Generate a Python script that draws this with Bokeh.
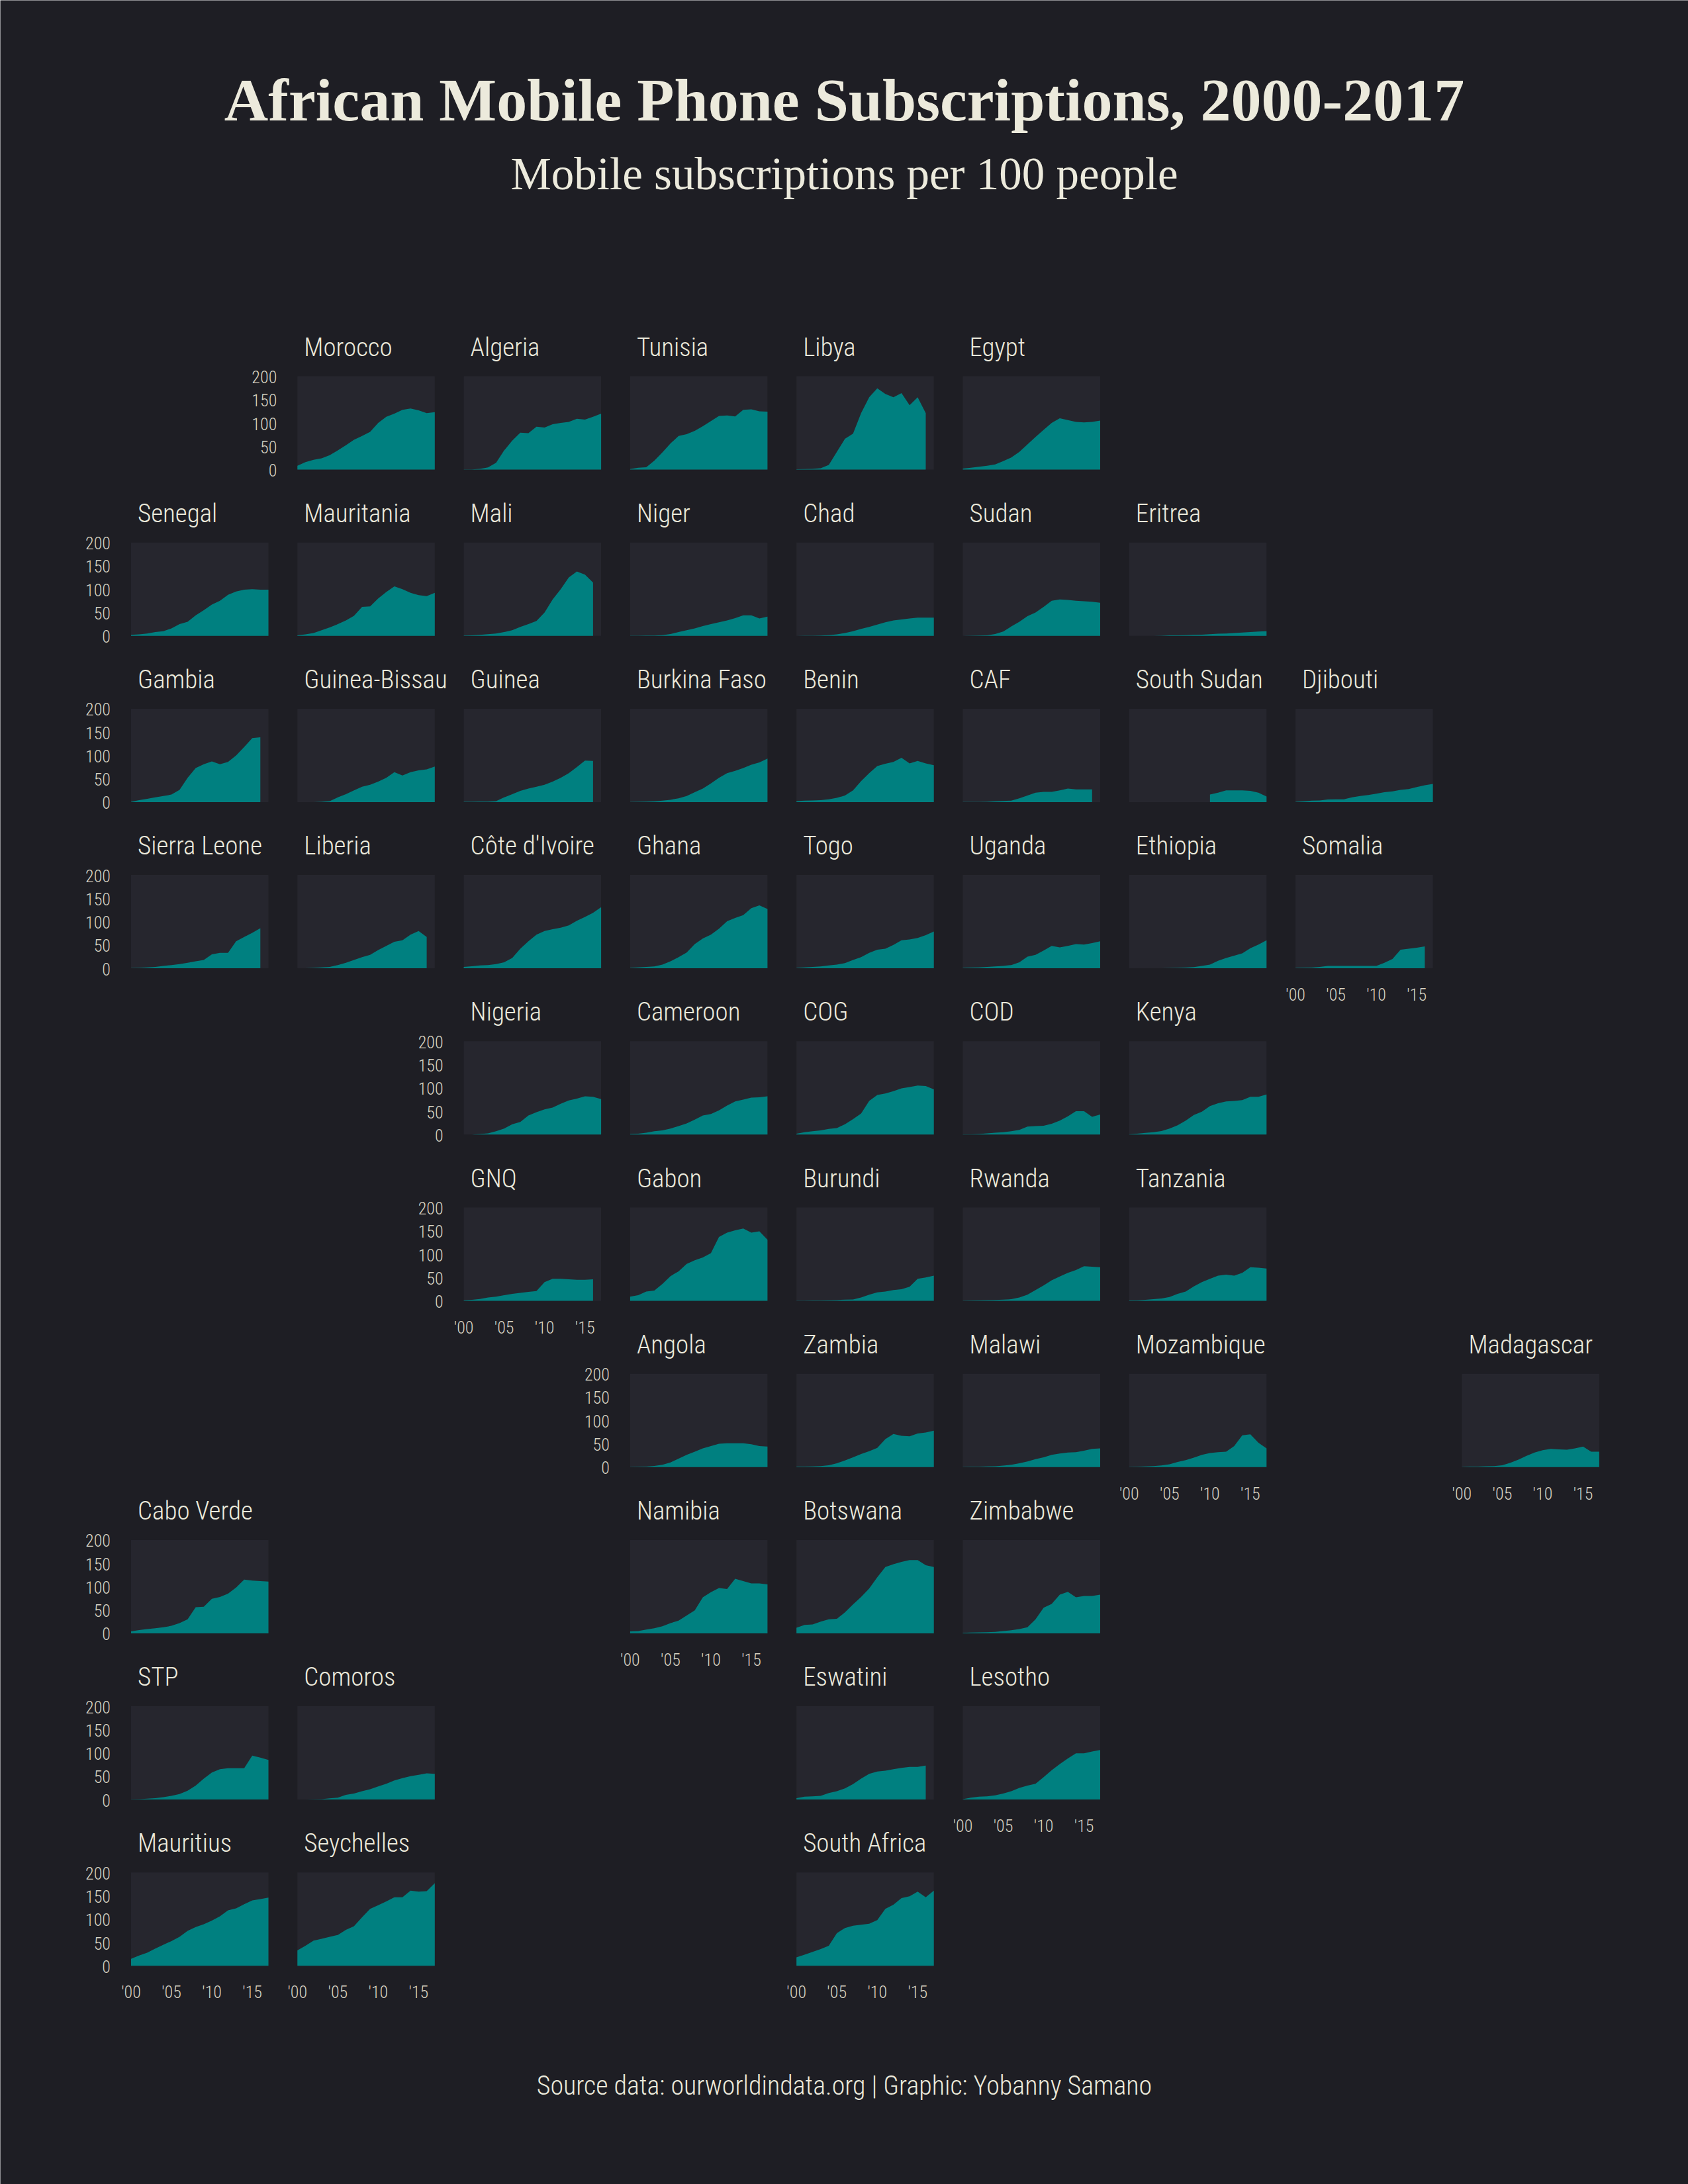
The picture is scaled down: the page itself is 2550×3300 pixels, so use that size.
from bokeh.plotting import figure
from bokeh.models import Range1d, Label
from bokeh.core.properties import value
from bokeh.embed import file_html
from bokeh.resources import INLINE

# ---------------- data (mobile subscriptions per 100 people, from 2000) ----------------
morocco = [8, 16, 21, 24, 31, 41, 52, 64, 72, 81, 100, 113, 120, 128, 131, 127, 121, 123]
algeria = [0.3, 0.3, 1.3, 4.5, 14.5, 41, 62, 79, 78, 92, 90, 97, 100, 102, 109, 107, 113, 120]
tunisia = [1.2, 4, 5, 19, 37, 56, 72, 76, 83, 93, 104, 115, 116, 114, 128, 129, 125, 124]
libya = [0.8, 0.9, 1.3, 3, 10, 38, 66, 77, 121, 155, 174, 162, 155, 164, 138, 155, 121]
egypt = [2, 4, 6, 8, 11, 18, 26, 38, 54, 70, 85, 100, 110, 106, 102, 101, 102, 105]
senegal = [2, 3, 5, 8, 10, 16, 25, 30, 44, 55, 67, 75, 88, 95, 99, 100, 99, 99]
mauritania = [1, 3, 6, 12, 18, 25, 33, 43, 62, 63, 80, 94, 106, 100, 92, 87, 85, 92]
mali = [0.5, 1, 2, 3.5, 5, 8, 12, 19, 25, 32, 50, 78, 100, 125, 138, 131, 114]
niger = [0.2, 0.3, 0.5, 0.8, 1.5, 4, 8, 12, 16, 21, 25, 29, 33, 38, 44, 44, 37, 41]
chad = [0.1, 0.3, 0.4, 0.8, 1.3, 3, 6, 10, 15, 19, 24, 29, 33, 35, 37, 39, 39, 39]
sudan = [0.1, 0.3, 0.5, 1, 4, 9, 20, 30, 42, 50, 62, 75, 78, 77, 75, 74, 73, 71]
eritrea = [0, 0, 0, 0, 0.3, 1, 1, 1.5, 2, 2.5, 3.5, 4.5, 5, 6, 7, 8, 9, 10]
gambia = [0.4, 4, 7, 10, 13, 16, 26, 52, 73, 81, 87, 81, 86, 100, 118, 137, 139]
guinea_bissau = [0, 0, 0, 0.5, 2, 10, 17, 25, 33, 37, 44, 52, 64, 57, 64, 68, 70, 76]
guinea = [0.5, 0.6, 0.8, 1, 2, 10, 17, 24, 29, 33, 37, 44, 52, 62, 75, 89, 88]
burkina_faso = [0.2, 0.6, 0.8, 1.8, 3, 5, 8, 13, 21, 29, 40, 52, 62, 67, 73, 80, 85, 93]
benin = [2, 3, 3.5, 4, 6, 9, 14, 25, 45, 62, 77, 82, 86, 95, 83, 88, 83, 79]
caf = [0.1, 0.3, 0.3, 0.4, 1.5, 2.5, 3, 8, 14, 20, 22, 22, 25, 29, 27, 27, 27]
south_sudan = [16, 20, 25, 25, 25, 24, 20, 12]
djibouti = [0.5, 1.5, 3, 3.5, 5.5, 6, 6, 10, 13, 15, 18, 21, 23, 26, 28, 32, 36, 39]
sierra_leone = [0.5, 1, 2, 3, 5, 7, 9, 12, 15, 18, 30, 33, 33, 58, 67, 76, 86]
liberia = [0.1, 0.1, 1, 2, 3, 7, 12, 18, 24, 29, 39, 48, 57, 60, 72, 80, 67]
cote_divoire = [3, 4.5, 6, 7, 9, 13, 22, 42, 58, 72, 80, 84, 87, 92, 102, 110, 119, 131]
ghana = [1, 2, 3, 4, 8, 15, 24, 34, 52, 64, 72, 85, 101, 108, 114, 129, 135, 127]
togo = [1, 2, 3, 4, 6, 8, 11, 18, 24, 33, 40, 42, 50, 60, 62, 65, 71, 79]
uganda = [1, 1.5, 2, 3, 4, 5, 7, 13, 25, 29, 38, 48, 45, 48, 52, 51, 54, 58]
ethiopia = [0, 0.05, 0.1, 0.1, 0.2, 0.5, 1, 1.5, 2.5, 5, 8, 16, 22, 27, 32, 43, 51, 60]
somalia = [1, 1.2, 1.5, 3, 5, 5, 5, 5, 5, 5, 5, 12, 20, 40, 42, 44, 47]
nigeria = [0.02, 0.2, 1.2, 2.6, 7, 13, 22, 27, 41, 48, 54, 58, 66, 73, 77, 82, 81, 76]
cameroon = [1, 2, 4, 7, 9, 13, 18, 24, 32, 41, 44, 52, 62, 71, 75, 79, 80, 82]
cog = [2, 5, 7, 9, 12, 14, 22, 33, 45, 72, 85, 88, 93, 99, 102, 105, 104, 97]
cod = [0.3, 0.6, 1, 2.5, 4, 5, 7, 10, 17, 18, 19, 23, 30, 39, 50, 50, 38, 43]
kenya = [0.4, 2, 3.5, 5, 7.5, 13, 20, 30, 42, 49, 61, 67, 71, 72, 74, 81, 81, 86]
gnq = [1, 2, 4, 7, 9, 12, 15, 17, 19, 21, 40, 47, 47, 46, 45, 45, 46]
gabon = [9, 12, 20, 22, 36, 53, 63, 79, 87, 93, 102, 137, 146, 151, 155, 146, 149, 131]
burundi = [0.3, 0.5, 0.6, 0.8, 1, 1.5, 2.5, 3, 7, 13, 18, 20, 23, 25, 30, 47, 50, 54]
rwanda = [0.5, 0.8, 1, 1.5, 1.6, 2.5, 3.5, 7, 13, 23, 33, 44, 52, 60, 66, 74, 73, 72]
tanzania = [1, 1.2, 2, 3.5, 5, 8, 15, 20, 31, 40, 47, 54, 56, 54, 60, 72, 71, 69]
angola = [0.2, 0.6, 1, 2.3, 5, 10, 18, 26, 33, 40, 45, 50, 51, 51, 51, 49, 45, 44]
zambia = [1, 1, 1.3, 2, 4, 8, 14, 21, 28, 34, 41, 60, 71, 67, 66, 72, 74, 78]
malawi = [0.4, 0.5, 0.8, 1.2, 1.8, 3, 5, 8, 12, 17, 21, 26, 29, 31, 32, 35, 39, 40]
mozambique = [0.3, 0.8, 1.4, 2, 3.5, 6, 11, 15, 20, 26, 30, 32, 33, 45, 68, 70, 52, 40]
madagascar = [0.4, 0.9, 1, 1.7, 2, 4, 9, 16, 24, 31, 36, 39, 38, 37, 40, 44, 33, 33]
cabo_verde = [4, 7, 9, 11, 13, 16, 22, 30, 56, 57, 74, 78, 85, 98, 115, 113, 112, 111]
namibia = [4, 5, 8, 11, 15, 22, 27, 38, 49, 77, 88, 97, 95, 117, 112, 107, 107, 105]
botswana = [12, 18, 19, 25, 30, 31, 45, 62, 78, 96, 120, 142, 148, 153, 157, 157, 146, 142]
zimbabwe = [1, 1.5, 2, 2.5, 3, 5, 6.5, 9, 13, 30, 55, 63, 83, 89, 77, 80, 80, 83]
stp = [0.5, 1, 2, 3, 5, 8, 12, 19, 30, 45, 58, 65, 67, 67, 67, 94, 90, 85]
comoros = [0, 0.3, 0.5, 1, 2.5, 4, 10, 13, 18, 22, 28, 34, 41, 46, 50, 53, 56, 55]
eswatini = [3, 6, 7, 8, 14, 18, 24, 33, 45, 55, 60, 62, 65, 68, 70, 70, 73]
lesotho = [1, 4, 6, 7, 9, 13, 18, 25, 30, 34, 48, 63, 76, 88, 99, 99, 103, 106]
mauritius = [15, 22, 28, 37, 45, 53, 62, 75, 83, 89, 97, 106, 119, 123, 132, 140, 143, 146]
seychelles = [33, 43, 54, 58, 62, 66, 77, 85, 104, 122, 130, 138, 147, 147, 161, 159, 160, 177]
south_africa = [18, 24, 30, 36, 43, 70, 81, 86, 88, 90, 98, 122, 131, 145, 149, 159, 147, 161]

series = {
    "Morocco": morocco, "Algeria": algeria, "Tunisia": tunisia, "Libya": libya, "Egypt": egypt,
    "Senegal": senegal, "Mauritania": mauritania, "Mali": mali, "Niger": niger, "Chad": chad,
    "Sudan": sudan, "Eritrea": eritrea, "Gambia": gambia, "Guinea-Bissau": guinea_bissau,
    "Guinea": guinea, "Burkina Faso": burkina_faso, "Benin": benin, "CAF": caf,
    "South Sudan": south_sudan, "Djibouti": djibouti, "Sierra Leone": sierra_leone,
    "Liberia": liberia, "Côte d'Ivoire": cote_divoire, "Ghana": ghana, "Togo": togo,
    "Uganda": uganda, "Ethiopia": ethiopia, "Somalia": somalia, "Nigeria": nigeria,
    "Cameroon": cameroon, "COG": cog, "COD": cod, "Kenya": kenya, "GNQ": gnq, "Gabon": gabon,
    "Burundi": burundi, "Rwanda": rwanda, "Tanzania": tanzania, "Angola": angola,
    "Zambia": zambia, "Malawi": malawi, "Mozambique": mozambique, "Madagascar": madagascar,
    "Cabo Verde": cabo_verde, "Namibia": namibia, "Botswana": botswana, "Zimbabwe": zimbabwe,
    "STP": stp, "Comoros": comoros, "Eswatini": eswatini, "Lesotho": lesotho,
    "Mauritius": mauritius, "Seychelles": seychelles, "South Africa": south_africa,
}
first_year = {"South Sudan": 2010}
x_ticks = [2000, 2005, 2010, 2015]
x_tick_labels = ["'00", "'05", "'10", "'15"]
y_ticks = [0, 50, 100, 150, 200]
y_tick_labels = ["0", "50", "100", "150", "200"]

# ---------------- geofacet layout: (row, column) ----------------
grid = {
    "Morocco": (0, 1), "Algeria": (0, 2), "Tunisia": (0, 3), "Libya": (0, 4), "Egypt": (0, 5),
    "Senegal": (1, 0), "Mauritania": (1, 1), "Mali": (1, 2), "Niger": (1, 3), "Chad": (1, 4),
    "Sudan": (1, 5), "Eritrea": (1, 6),
    "Gambia": (2, 0), "Guinea-Bissau": (2, 1), "Guinea": (2, 2), "Burkina Faso": (2, 3),
    "Benin": (2, 4), "CAF": (2, 5), "South Sudan": (2, 6), "Djibouti": (2, 7),
    "Sierra Leone": (3, 0), "Liberia": (3, 1), "Côte d'Ivoire": (3, 2), "Ghana": (3, 3),
    "Togo": (3, 4), "Uganda": (3, 5), "Ethiopia": (3, 6), "Somalia": (3, 7),
    "Nigeria": (4, 2), "Cameroon": (4, 3), "COG": (4, 4), "COD": (4, 5), "Kenya": (4, 6),
    "GNQ": (5, 2), "Gabon": (5, 3), "Burundi": (5, 4), "Rwanda": (5, 5), "Tanzania": (5, 6),
    "Angola": (6, 3), "Zambia": (6, 4), "Malawi": (6, 5), "Mozambique": (6, 6), "Madagascar": (6, 8),
    "Cabo Verde": (7, 0), "Namibia": (7, 3), "Botswana": (7, 4), "Zimbabwe": (7, 5),
    "STP": (8, 0), "Comoros": (8, 1), "Eswatini": (8, 4), "Lesotho": (8, 5),
    "Mauritius": (9, 0), "Seychelles": (9, 1), "South Africa": (9, 4),
}

# ---------------- styling / geometry ----------------
W, H = 2550, 3300
X0, DX, PW = 197.5, 251.3, 207.5
Y0, DY, PH = 568.0, 251.2, 141.0
X_MIN, X_MAX = 2000, 2017
Y_MIN, Y_MAX = 0, 200
BG = "#1E1E24"
PANEL = "#26262E"
TEAL = "#008080"
TXT = "#ECEADC"
TICK = "#D8D3C3"
FONT_C = "Roboto Condensed Light, Roboto Condensed, Roboto"
FONT_S = "Liberation Serif"

p = figure(width=W, height=H, x_range=Range1d(0, W), y_range=Range1d(0, H),
           output_backend="svg", toolbar_location=None, min_border=0,
           x_axis_location=None, y_axis_location=None,
           background_fill_color=BG, border_fill_color=BG, outline_line_color=None)
p.grid.visible = False

rows_left = {}
cols_bottom = {}
for name, (r, c) in grid.items():
    if r not in rows_left or c < grid[rows_left[r]][1]:
        rows_left[r] = name
    if c not in cols_bottom or r > grid[cols_bottom[c]][0]:
        cols_bottom[c] = name
with_y = set(rows_left.values())
with_x = set(cols_bottom.values())

for name, vals in series.items():
    r, c = grid[name]
    left = X0 + c * DX
    top = Y0 + r * DY
    sub = p.subplot(x_source=Range1d(X_MIN, X_MAX), y_source=Range1d(Y_MIN, Y_MAX),
                    x_target=Range1d(left, left + PW),
                    y_target=Range1d(H - top - PH, H - top))
    sub.quad(left=[X_MIN], right=[X_MAX], bottom=[Y_MIN], top=[Y_MAX],
             fill_color=PANEL, line_color=None)
    start = first_year.get(name, X_MIN)
    yrs = list(range(start, start + len(vals)))
    sub.varea(x=yrs, y1=[0] * len(vals), y2=vals, fill_color=TEAL)
    sub.text(x=[X_MIN], y=[Y_MAX], text=[name], x_offset=10, y_offset=-44,
             text_font=value(FONT_C), text_font_size="39px", text_color=TXT,
             text_align="left", text_baseline="alphabetic")
    if name in with_y:
        sub.text(x=[X_MIN] * len(y_ticks), y=y_ticks, text=y_tick_labels,
                 x_offset=-31, y_offset=1, text_font=value(FONT_C), text_font_size="26px",
                 text_color=TICK, text_align="right", text_baseline="alphabetic")
    if name in with_x:
        sub.text(x=x_ticks, y=[Y_MIN] * len(x_ticks), text=x_tick_labels,
                 y_offset=40, text_font=value(FONT_C), text_font_size="26px",
                 text_color=TICK, text_align="center", text_baseline="alphabetic")

p.add_layout(Label(x=W / 2, y=H - 150, text="African Mobile Phone Subscriptions, 2000-2017",
                   text_font=FONT_S, text_font_style="bold", text_font_size="92px",
                   text_color=TXT, text_align="center", text_baseline="alphabetic"))
p.add_layout(Label(x=W / 2, y=H - 262, text="Mobile subscriptions per 100 people",
                   text_font=FONT_S, text_font_size="69px",
                   text_color=TXT, text_align="center", text_baseline="alphabetic"))
p.add_layout(Label(x=W / 2, y=149,
                   text="Source data: ourworldindata.org | Graphic: Yobanny Samano",
                   text_font=FONT_C, text_font_size="40px",
                   text_color=TXT, text_align="center", text_baseline="alphabetic"))

open("out.html", "w").write(file_html(p, INLINE))
